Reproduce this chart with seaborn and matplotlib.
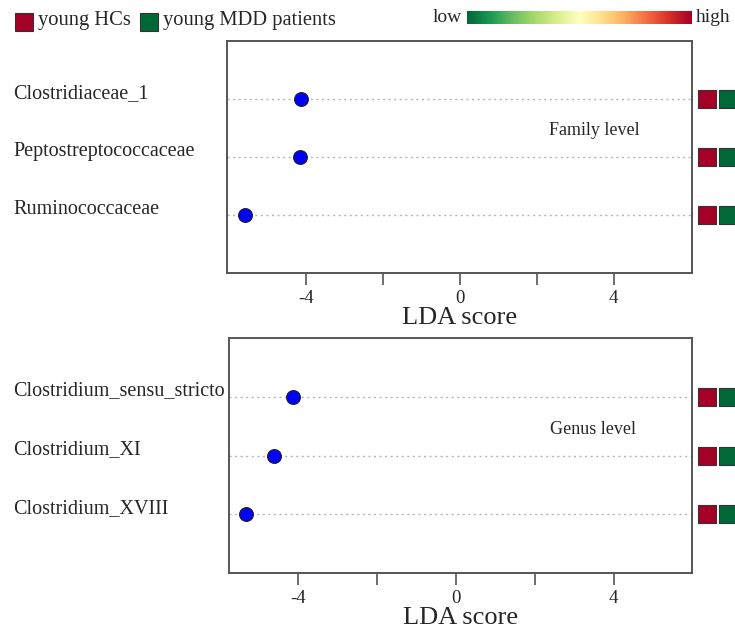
import numpy as np
import pandas as pd
import matplotlib
matplotlib.use("Agg")
import matplotlib.pyplot as plt
import matplotlib.transforms as mtransforms
from matplotlib.patches import Rectangle
import seaborn as sns

# LDA effect sizes
family_taxa = ['Clostridiaceae_1', 'Peptostreptococcaceae', 'Ruminococcaceae']
family_lda = [-4.14, -4.17, -5.60]
genus_taxa = ['Clostridium_sensu_stricto', 'Clostridium_XI', 'Clostridium_XVIII']
genus_lda = [-4.14, -4.62, -5.33]
group_names = ['young HCs', 'young MDD patients']
group_colors = ['#a50026', '#006837']
xtick_vals = [-4, -2, 0, 2, 4]
xtick_labels = ['-4', '', '0', '', '4']

sns.set_style('white')
plt.rcParams['font.family'] = ['Liberation Serif', 'DejaVu Serif']

fig = plt.figure(figsize=(7.35, 6.3), dpi=100)
ax1 = fig.add_axes([227 / 735, 1 - 273 / 630, 465 / 735, 232 / 630])
ax2 = fig.add_axes([229 / 735, 1 - 573 / 630, 463 / 735, 235 / 630])

panels = [
    (ax1, family_taxa, family_lda, 'Family level', (-6.07, 6.04), (0.79, 0.615)),
    (ax2, genus_taxa, genus_lda, 'Genus level', (-5.76, 5.99), (0.786, 0.61)),
]

for ax, taxa, lda, title, xlim, tpos in panels:
    df = pd.DataFrame({'taxon': taxa, 'LDA': lda, 'row': np.arange(len(taxa))})
    # dotted guide line per taxon
    for r in df['row']:
        ax.axhline(r, color='#b5b5b5', lw=1.0, ls=(0, (1.5, 2.5)), zorder=1)
    sns.scatterplot(data=df, x='LDA', y='row', ax=ax, color='#0000ff',
                    edgecolor='#1a1a40', linewidth=1.0, s=95, zorder=3, legend=False)
    ax.set_xlim(*xlim)
    ax.set_ylim(len(taxa), -1)
    ax.set_yticks([])
    ax.set_ylabel('')
    ax.set_xticks(xtick_vals)
    ax.set_xticklabels(xtick_labels, fontsize=13.5)
    ax.tick_params(axis='x', direction='out', length=8.5, width=1.2,
                   color='#555555', pad=4, bottom=True)
    ax.set_xlabel('LDA score', fontsize=19, labelpad=0)
    for s in ax.spines.values():
        s.set_color('#555555')
        s.set_linewidth(1.4)

    # taxon names, left aligned at figure edge
    tr = mtransforms.blended_transform_factory(fig.transFigure, ax.transData)
    for r, name in zip(df['row'], df['taxon']):
        ax.text(13 / 735, r - 0.1, name, transform=tr, ha='left', va='center',
                fontsize=14.5)

    # group colour squares right of the panel
    trs = mtransforms.blended_transform_factory(ax.transAxes, ax.transData)
    for gx, col in zip([1.033, 1.077], group_colors):
        ax.scatter([gx] * len(taxa), df['row'], marker='s', s=150, color=col,
                   edgecolor='#333333', linewidth=0.8, transform=trs,
                   clip_on=False, zorder=4)

    ax.text(tpos[0], tpos[1], title, transform=ax.transAxes, ha='center',
            va='center', fontsize=13)

# group legend at top left
lx = [15, 140]
for x0, name, col in zip(lx, group_names, group_colors):
    fig.add_artist(Rectangle((x0 / 735, 1 - 31 / 630), 18 / 735, 18 / 630,
                             transform=fig.transFigure, facecolor=col,
                             edgecolor='#333333', lw=0.8))
    fig.text((x0 + 23) / 735, 1 - 21 / 630, name, ha='left', va='center',
             fontsize=14.8)

# low-high colour bar
cax = fig.add_axes([467 / 735, 1 - 24 / 630, 225 / 735, 13 / 630])
cax.imshow(np.linspace(0, 1, 256)[None, :], aspect='auto', cmap='RdYlGn_r')
cax.set_axis_off()
fig.text(462 / 735, 1 - 18 / 630, 'low', ha='right', va='center', fontsize=14)
fig.text(696 / 735, 1 - 18 / 630, 'high', ha='left', va='center', fontsize=14)

fig.savefig('out.png', dpi=100)
